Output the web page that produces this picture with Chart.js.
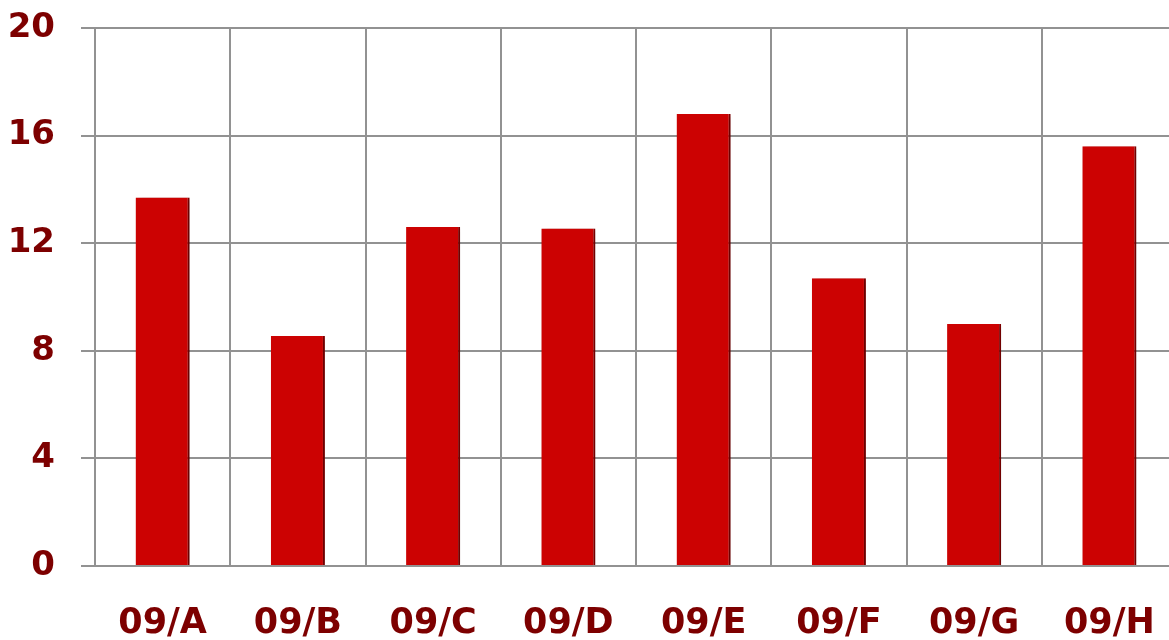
<!DOCTYPE html>
<html>
<head>
<meta charset="utf-8">
<script src="https://cdn.jsdelivr.net/npm/chart.js@4.4.0/dist/chart.umd.min.js"></script>
<style>
  html, body { margin: 0; padding: 0; background: #fff; overflow: hidden; }
</style>
</head>
<body>
<canvas id="chart" width="1178" height="640"></canvas>
<script>
const categories = ["09/A", "09/B", "09/C", "09/D", "09/E", "09/F", "09/G", "09/H"];
const values = [13.7, 8.55, 12.6, 12.55, 16.8, 10.7, 9.0, 15.6];
const yTicks = [0, 4, 8, 12, 16, 20];

const labelColor = "#7d0000";
const gridColor = "#929292";

// soft drop shadow behind the bars
const barShadow = {
  id: "barShadow",
  beforeDatasetsDraw(chart) {
    const ctx = chart.ctx;
    ctx.save();
    ctx.shadowColor = "rgba(0,0,0,0.3)";
    ctx.shadowBlur = 6;
    ctx.shadowOffsetX = 3;
    ctx.shadowOffsetY = 1;
  },
  afterDatasetsDraw(chart) {
    chart.ctx.restore();
  }
};

new Chart(document.getElementById("chart"), {
  type: "bar",
  data: {
    labels: categories,
    datasets: [{
      data: values,
      backgroundColor: "#cc0202",
      borderColor: "#8e0000",
      borderWidth: { right: 2, top: 0, left: 0, bottom: 0 },
      borderSkipped: false,
      categoryPercentage: 1,
      barPercentage: 0.4
    }]
  },
  options: {
    responsive: false,
    animation: false,
    devicePixelRatio: 1,
    layout: { padding: { top: 28, right: 1, left: 0, bottom: 0 } },
    plugins: {
      legend: { display: false },
      tooltip: { enabled: false }
    },
    scales: {
      x: {
        grid: { color: gridColor, lineWidth: 2, drawTicks: false, offset: true },
        border: { color: gridColor, width: 2 },
        ticks: {
          color: labelColor,
          font: { family: "DejaVu Sans", weight: "bold", size: 35 },
          padding: 37,
          maxRotation: 0
        },
        afterFit(scale) {
          scale.height = 74;
          scale.paddingLeft = 0;
          scale.paddingRight = 0;
        }
      },
      y: {
        min: 0,
        max: 20,
        afterBuildTicks(scale) { scale.ticks = yTicks.map(v => ({ value: v })); },
        grid: { color: gridColor, lineWidth: 2, tickLength: 14 },
        border: { color: gridColor, width: 2 },
        ticks: {
          color: labelColor,
          font: { family: "DejaVu Sans", weight: "bold", size: 34 },
          padding: 26
        },
        afterFit(scale) {
          scale.width = 95;
          scale.paddingTop = 0;
          scale.paddingBottom = 0;
        }
      }
    }
  },
  plugins: [barShadow]
});
</script>
</body>
</html>
